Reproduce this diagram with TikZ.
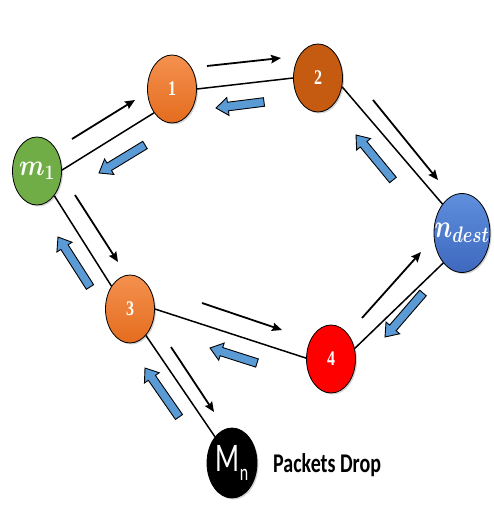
\documentclass[tikz,border=0pt]{standalone}
\usepackage{amsmath}
\usepackage{fontspec}
\usepackage{graphicx}
\newfontfamily\carlito{Carlito}
\newfontfamily\digitfont{Liberation Serif}
\usetikzlibrary{shapes.geometric,arrows.meta,calc,shadows}
\definecolor{mgreen}{HTML}{70AD47}
\definecolor{orTop}{HTML}{F4914F}
\definecolor{orBot}{HTML}{E46C1E}
\definecolor{dorange}{HTML}{C55A11}
\definecolor{blTop}{HTML}{5F8FDD}
\definecolor{blBot}{HTML}{3E68BE}
\definecolor{arrowblue}{HTML}{5B9BD5}
\tikzset{
  nd/.style={ellipse, draw=black, line width=0.8pt, inner sep=0pt,
    minimum width=49pt, minimum height=68pt,
    drop shadow={shadow xshift=1.5pt, shadow yshift=-1.5pt, opacity=0.35}},
  lbl/.style={text=white, font=\digitfont\bfseries\fontsize{16}{16}\selectfont},
  link/.style={line width=1.5pt, draw=black},
  flow/.style={line width=1.8pt, draw=black, -{Stealth[length=10pt,width=8.5pt,inset=1.5pt]}},
  blockarrowstyle/.style={draw=black, line width=0.9pt, fill=arrowblue, line join=miter}
}
\newcommand\blockarrow[2]{%
  \coordinate (ba-h) at ($(#2)!12pt!(#1)$);
  \draw[blockarrowstyle] ($(#1)!4.3pt!90:(#2)$) -- ($(ba-h)!4.3pt!90:(#2)$) -- ($(ba-h)!9pt!90:(#2)$) -- (#2) -- ($(ba-h)!9pt!-90:(#2)$) -- ($(ba-h)!4.3pt!-90:(#2)$) -- ($(#1)!4.3pt!-90:(#2)$) -- cycle;}
\newcommand\vs[2]{\scalebox{1}[#1]{#2}}
\begin{document}
\begin{tikzpicture}[x=1pt,y=-1pt]
\useasboundingbox (0,0) rectangle (493,518);
% nodes
\node[nd, fill=mgreen, label={[text=white]center:\vs{1.2}{\fontsize{27}{27}\selectfont$\boldsymbol{m_1}$}}] (m1) at (37,171) {};
\node[nd, top color=orTop, bottom color=orBot, label={[lbl]center:\vs{1.3}{1}}] (n1) at (172,89) {};
\node[nd, fill=dorange, label={[lbl]center:\vs{1.3}{2}}] (n2) at (318,78) {};
\node[nd, top color=blTop, bottom color=blBot, minimum width=56pt, minimum height=79pt,
  label={[text=white]center:\vs{1.3}{\fontsize{25}{25}\selectfont$\boldsymbol{n_{dest}}$}}] (nd) at (462,233) {};
\node[nd, top color=orTop, bottom color=orBot, label={[lbl]center:\vs{1.3}{3}}] (n3) at (130,309) {};
\node[nd, fill=red, label={[lbl]center:\vs{1.3}{4}}] (n4) at (331,359) {};
\node[nd, fill=black, minimum width=50pt, minimum height=70pt,
  label={[text=white]center:\vs{1.45}{\carlito\fontsize{28}{28}\selectfont M\raisebox{-6pt}{\fontsize{16}{16}\selectfont n}}}] (mn) at (232,463) {};
\node[anchor=west, inner sep=0pt] (pd) at (273,465) {\vs{1.35}{\carlito\bfseries\fontsize{20}{20}\selectfont Packets Drop}};
% links
\draw[link] (m1.2) -- (n1.233);
\draw[link] (n1.0) -- (n2.180);
\draw[link] (n2.-20) -- (nd.124);
\draw[link] (nd.238) -- (n4.24);
\draw[link] (n3.0) -- (n4.178);
\draw[link] (n3.-59) -- (mn.123);
\draw[link] (m1.-55) -- (n3.129);
% black flow arrows
\draw[flow] (72,139) -- (135,100);
\draw[flow] (207,66) -- (281,58);
\draw[flow] (373,100) -- (438,180);
\draw[flow] (362,318) -- (421,252);
\draw[flow] (202,303) -- (282,330);
\draw[flow] (171,347) -- (214,412);
\draw[flow] (75,195) -- (118,262);
% blue block arrows
\blockarrow{264,102}{216,108}
\blockarrow{145,145}{99,173}
\blockarrow{393,180}{356,135}
\blockarrow{423,293}{385,337}
\blockarrow{257,363}{210,348}
\blockarrow{179,417}{145,368}
\blockarrow{90,287}{58,237}
\end{tikzpicture}
\end{document}
